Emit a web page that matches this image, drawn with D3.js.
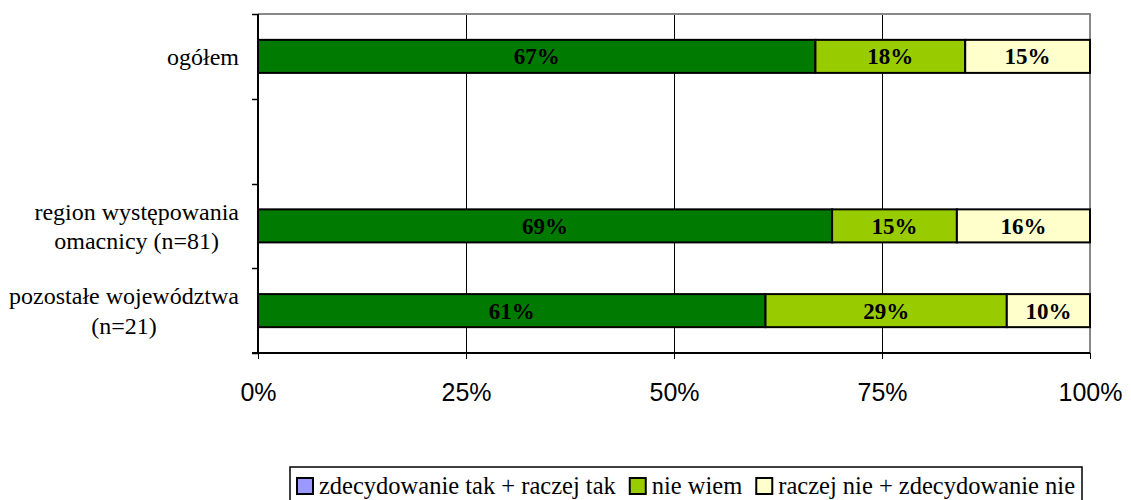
<!DOCTYPE html>
<html><head><meta charset="utf-8">
<script src="https://cdn.jsdelivr.net/npm/d3@7"></script>
<style>body{margin:0;background:#fff}svg{display:block}</style>
</head><body><svg id="c" width="1131" height="500"></svg>
<script>
const categories = ["ogółem", "", "region występowania\nomacnicy (n=81)", "pozostałe województwa\n(n=21)"];
const seriesNames = ["zdecydowanie tak + raczej tak", "nie wiem", "raczej nie + zdecydowanie nie"];
const tak = [67, null, 69, 61];
const nieWiem = [18, null, 15, 29];
const nie = [15, null, 16, 10];
const xTicks = [0, 25, 50, 75, 100];
const barColors = ["#007A00", "#99CC00", "#FFFFCC"];
const legendColors = ["#9999FF", "#99CC00", "#FFFFCC"];

const svg = d3.select("#c");
const L = 258, R = 1090, T = 14, B = 353;
const x = d3.scaleLinear().domain([0, 100]).range([L, R]);
const y = d3.scaleBand().domain(d3.range(categories.length)).range([T, B]).padding(0);
const barH = y.bandwidth() * 0.39;

// gridlines
svg.append("g").selectAll("line").data(xTicks.slice(1, -1)).join("line")
  .attr("x1", d => Math.round(x(d)) + 0.5).attr("x2", d => Math.round(x(d)) + 0.5).attr("y1", T).attr("y2", B)
  .attr("stroke", "#000").attr("stroke-width", 1).attr("shape-rendering", "crispEdges");
// gray border top/right
svg.append("path").attr("d", `M${L},${T}H${R}V${B}`).attr("fill", "none")
  .attr("stroke", "#888").attr("stroke-width", 2);

// bars
const series = [tak, nieWiem, nie];
const stackData = categories.map((c, i) => {
  let acc = 0;
  return series.map((s, k) => { const v = s[i]; const o = {i, k, v, x0: acc, x1: acc + (v || 0)}; acc += (v || 0); return o; });
}).flat().filter(d => d.v != null);

const bars = svg.append("g");
bars.selectAll("rect").data(stackData).join("rect")
  .attr("x", d => x(d.x0)).attr("width", d => x(d.x1) - x(d.x0))
  .attr("y", d => y(d.i) + y.bandwidth() / 2 - barH / 2).attr("height", barH)
  .attr("fill", d => barColors[d.k]).attr("stroke", "#000").attr("stroke-width", 2);
bars.selectAll("text").data(stackData).join("text")
  .attr("x", d => (x(d.x0) + x(d.x1)) / 2)
  .attr("y", d => y(d.i) + y.bandwidth() / 2)
  .attr("dy", "0.35em").attr("text-anchor", "middle")
  .attr("font-family", "'Liberation Serif', 'Times New Roman', serif")
  .attr("font-weight", "bold").attr("font-size", 23).attr("fill", "#000")
  .text(d => d.v + "%");

// axes
const xAxis = d3.axisBottom(x).tickValues(xTicks).tickFormat(d => d + "%").tickSize(6).tickPadding(24);
const gx = svg.append("g").attr("transform", `translate(0,${B})`).call(xAxis);
gx.select(".domain").attr("stroke", "#000").attr("stroke-width", 2).attr("d", `M${L - 6},0H${R}`);
gx.selectAll(".tick line").attr("stroke", "#000").attr("shape-rendering", "crispEdges");
gx.selectAll("text").attr("font-family", "'Liberation Sans', Arial, sans-serif").attr("font-size", 25).attr("fill", "#000");

// left axis line + ticks at band edges
const edges = d3.range(categories.length + 1).map(i => T + i * y.step());
svg.append("line").attr("x1", L).attr("x2", L).attr("y1", T).attr("y2", B).attr("stroke", "#000").attr("stroke-width", 2);
svg.append("g").selectAll("line").data(edges).join("line")
  .attr("x1", L - 6).attr("x2", L).attr("y1", d => Math.round(d) + 0.5).attr("y2", d => Math.round(d) + 0.5)
  .attr("stroke", "#000").attr("stroke-width", 1.5);

// category labels
const catG = svg.append("g").attr("font-family", "'Liberation Serif', 'Times New Roman', serif").attr("font-size", 24).attr("fill", "#000");
categories.forEach((c, i) => {
  if (!c) return;
  const lines = c.split("\n");
  const lh = 29.5;
  const cy = y(i) + y.bandwidth() / 2;
  const g = catG.append("g");
  const ts = lines.map((ln, j) => g.append("text")
    .attr("y", cy + (j - (lines.length - 1) / 2) * lh).attr("dy", "0.35em")
    .attr("text-anchor", "middle").text(ln));
  const maxW = d3.max(ts, t => t.node().getComputedTextLength());
  ts.forEach(t => t.attr("x", 239 - maxW / 2));
});

// legend
const lg = svg.append("g").attr("font-family", "'Liberation Serif', 'Times New Roman', serif").attr("font-size", 24.5);
lg.append("rect").attr("x", 290).attr("y", 467).attr("width", 792).attr("height", 45)
  .attr("fill", "#fff").attr("stroke", "#000").attr("stroke-width", 1.5);
let lx = 297;
seriesNames.forEach((n, k) => {
  lg.append("rect").attr("x", lx).attr("y", 478).attr("width", 16).attr("height", 16)
    .attr("fill", legendColors[k]).attr("stroke", "#000").attr("stroke-width", 2);
  const t = lg.append("text").attr("x", lx + 22).attr("y", 494).attr("fill", "#000").text(n);
  lx += 22 + t.node().getComputedTextLength() + 14;
});
</script></body></html>
